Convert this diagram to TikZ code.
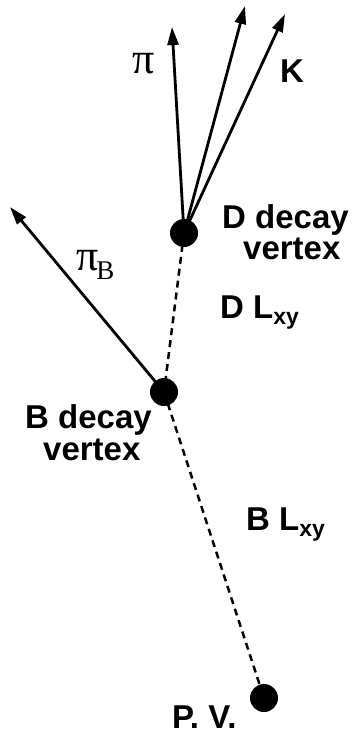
\documentclass[tikz,border=0pt]{standalone}
\usepackage{fontspec}
\setmainfont{Liberation Sans}
\newfontfamily\grkserif{Liberation Serif}
\usetikzlibrary{arrows.meta}
\begin{document}
\begin{tikzpicture}[x=1pt,y=-1pt,
  lab/.style={font=\fontsize{33}{36}\selectfont\bfseries, inner sep=0pt, anchor=base west},
  glab/.style={font=\grkserif\fontsize{44}{48}\selectfont, inner sep=0pt, anchor=base west},
  vtx/.style={circle, fill=black, minimum size=28pt, inner sep=0pt},
  trk/.style={line width=2.8pt, -{Triangle[length=18pt,width=11pt]}},
  flight/.style={line width=2.5pt, dash pattern=on 7pt off 5pt}]
\useasboundingbox (0,0) rectangle (353,734);
% vertices
\coordinate (Dc) at (184,233);
\coordinate (Bc) at (164,392);
\coordinate (Pc) at (264,698);
% track ends
\coordinate (piend) at (172,27);
\coordinate (midend) at (245,6);
\coordinate (Kend) at (285,14);
\coordinate (piBend) at (10,207);
% flight paths
\draw[flight] (Dc) -- (Bc);
\draw[flight] (Bc) -- (Pc);
% tracks
\draw[trk] (Dc) -- (piend);
\draw[trk] (Dc) -- (midend);
\draw[trk] (Dc) -- (Kend);
\draw[trk] (Bc) -- (piBend);
% dots
\node[vtx] (D) at (Dc) {};
\node[vtx] (B) at (Bc) {};
\node[vtx] (PV) at (Pc) {};
% labels
\node[glab] (pi) at (132,73) {π};
\node[glab] (piB) at (76,270) {π\kern-2pt\raisebox{-9pt}{\fontsize{27}{29}\selectfont B}};
\node[lab] (K) at (280,82) {K};
\node[lab] (Dl1) at (222,228) {D decay};
\node[lab] (Dl2) at (243,259) {vertex};
\node[lab] (DL) at (220,318) {D L\raisebox{-6pt}{\fontsize{23}{25}\selectfont xy}};
\node[lab] (Bl1) at (25,428) {B decay};
\node[lab] (Bl2) at (43,460) {vertex};
\node[lab] (BL) at (246,530) {B L\raisebox{-6pt}{\fontsize{23}{25}\selectfont xy}};
\node[lab] (PVl) at (172,728) {P. V.};
\end{tikzpicture}
\end{document}
